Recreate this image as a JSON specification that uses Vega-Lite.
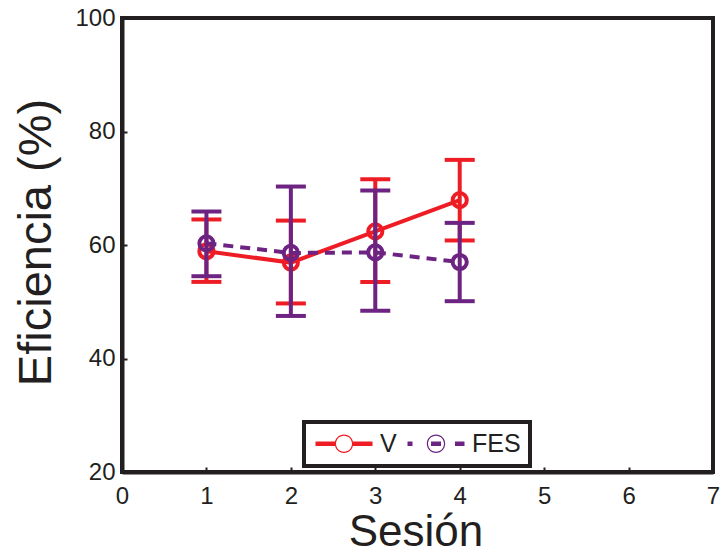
{
  "$schema": "https://vega.github.io/schema/vega-lite/v6.json",
  "width": 591,
  "height": 454,
  "autosize": {"type": "none"},
  "padding": {"left": 122, "top": 18, "right": 8, "bottom": 80},
  "background": "white",
  "config": {
    "view": {"stroke": "#231F20", "strokeWidth": 4},
    "font": "Liberation Sans",
    "axis": {
      "grid": false,
      "domainColor": "#231F20",
      "domainWidth": 4,
      "tickColor": "#231F20",
      "tickWidth": 2,
      "tickSize": -5,
      "labelFont": "Liberation Sans",
      "labelFontSize": 24,
      "labelColor": "#231F20",
      "titleFont": "Liberation Sans",
      "titleFontWeight": "normal",
      "titleColor": "#231F20",
      "labelFlush": false
    }
  },
  "data": {
    "values": [
      {"serie": "V", "x": 1, "m": 58.9, "lo": 53.5, "hi": 64.5},
      {"serie": "V", "x": 2, "m": 56.9, "lo": 49.7, "hi": 64.3},
      {"serie": "V", "x": 3, "m": 62.4, "lo": 53.5, "hi": 71.6},
      {"serie": "V", "x": 4, "m": 67.9, "lo": 60.8, "hi": 75.0},
      {"serie": "FES", "x": 1, "m": 60.3, "lo": 54.5, "hi": 65.9},
      {"serie": "FES", "x": 2, "m": 58.6, "lo": 47.5, "hi": 70.3},
      {"serie": "FES", "x": 3, "m": 58.7, "lo": 48.4, "hi": 69.6},
      {"serie": "FES", "x": 4, "m": 57.0, "lo": 50.1, "hi": 63.9}
    ]
  },
  "encoding": {
    "x": {
      "field": "x", "type": "quantitative",
      "scale": {"domain": [0, 7], "nice": false, "zero": false},
      "axis": {
        "values": [0, 1, 2, 3, 4, 5, 6, 7],
        "labelPadding": 17,
        "title": "Sesión",
        "titleFontSize": 44,
        "titleX": 293.5,
        "titleY": 73,
        "titleBaseline": "alphabetic",
        "titleAlign": "center"
      }
    },
    "y": {
      "field": "m", "type": "quantitative",
      "scale": {"domain": [20, 100], "nice": false, "zero": false},
      "axis": {
        "values": [20, 40, 60, 80, 100],
        "labelPadding": 12,
        "title": "Eficiencia (%)",
        "titleFontSize": 47,
        "titleAngle": -90,
        "titleX": -72,
        "titleY": 224,
        "titleBaseline": "alphabetic",
        "titleAlign": "center"
      }
    }
  },
  "layer": [
    {
      "transform": [{"filter": "datum.serie == 'V'"}],
      "mark": {"type": "rule", "color": "#EE1D25", "strokeWidth": 4, "opacity": 1},
      "encoding": {"y": {"field": "lo", "type": "quantitative"}, "y2": {"field": "hi"}}
    },
    {
      "transform": [{"filter": "datum.serie == 'V'"}],
      "mark": {"type": "tick", "orient": "horizontal", "color": "#EE1D25", "size": 30, "thickness": 4, "opacity": 1},
      "encoding": {"y": {"field": "hi", "type": "quantitative"}}
    },
    {
      "transform": [{"filter": "datum.serie == 'V'"}],
      "mark": {"type": "tick", "orient": "horizontal", "color": "#EE1D25", "size": 30, "thickness": 4, "opacity": 1},
      "encoding": {"y": {"field": "lo", "type": "quantitative"}}
    },
    {
      "transform": [{"filter": "datum.serie == 'V'"}],
      "mark": {"type": "line", "color": "#EE1D25", "strokeWidth": 4},
      "encoding": {}
    },
    {
      "transform": [{"filter": "datum.serie == 'V'"}],
      "mark": {"type": "point", "shape": "circle", "filled": false, "color": "#EE1D25", "strokeWidth": 4, "size": 200, "opacity": 1},
      "encoding": {}
    },
    {
      "transform": [{"filter": "datum.serie == 'FES'"}],
      "mark": {"type": "rule", "color": "#6C2382", "strokeWidth": 4, "opacity": 1},
      "encoding": {"y": {"field": "lo", "type": "quantitative"}, "y2": {"field": "hi"}}
    },
    {
      "transform": [{"filter": "datum.serie == 'FES'"}],
      "mark": {"type": "tick", "orient": "horizontal", "color": "#6C2382", "size": 30, "thickness": 4, "opacity": 1},
      "encoding": {"y": {"field": "hi", "type": "quantitative"}}
    },
    {
      "transform": [{"filter": "datum.serie == 'FES'"}],
      "mark": {"type": "tick", "orient": "horizontal", "color": "#6C2382", "size": 30, "thickness": 4, "opacity": 1},
      "encoding": {"y": {"field": "lo", "type": "quantitative"}}
    },
    {
      "transform": [{"filter": "datum.serie == 'FES'"}],
      "mark": {"type": "line", "color": "#6C2382", "strokeWidth": 4, "strokeDash": [10, 7]},
      "encoding": {}
    },
    {
      "transform": [{"filter": "datum.serie == 'FES'"}],
      "mark": {"type": "point", "shape": "circle", "filled": false, "color": "#6C2382", "strokeWidth": 4, "size": 200, "opacity": 1},
      "encoding": {}
    },
    {
      "transform": [{"filter": "datum.serie == 'ninguna'"}],
      "mark": {"type": "point", "filled": true, "opacity": 1},
      "encoding": {
        "color": {
          "field": "serie", "type": "nominal",
          "scale": {"domain": ["V", "FES"], "range": ["#EE1D25", "#6C2382"]},
          "legend": {
            "title": null,
            "orient": "none",
            "legendX": 182,
            "legendY": 404,
            "direction": "horizontal",
            "columns": 2,
            "padding": 9,
            "fillColor": "white",
            "strokeColor": "#231F20",
            "labelFont": "Liberation Sans",
            "labelFontSize": 25,
            "labelColor": "#231F20",
            "symbolSize": 400,
            "symbolStrokeWidth": 0,
            "symbolOpacity": 1,
            "symbolOffset": 18.5,
            "labelOffset": 23.5,
            "columnPadding": 8,
            "labelLimit": 300,
            "encode": {"legend": {"update": {"strokeWidth": {"value": 4}}}}
          }
        },
        "shape": {
          "field": "serie", "type": "nominal",
          "scale": {
            "domain": ["V", "FES"],
            "range": [
              "M-2.85,-0.22H-0.9V0.22H-2.85Z M0.9,-0.22H2.85V0.22H0.9Z M0.92,0A0.92,0.92 0 1 1 -0.92,0A0.92,0.92 0 1 1 0.92,0Z M0.8,0A0.8,0.8 0 1 0 -0.8,0A0.8,0.8 0 1 0 0.8,0Z",
              "M-2.85,-0.22H-2.35V0.22H-2.85Z M-0.5,-0.22H0.5V0.22H-0.5Z M1.9,-0.22H2.85V0.22H1.9Z M0.92,0A0.92,0.92 0 1 1 -0.92,0A0.92,0.92 0 1 1 0.92,0Z M0.8,0A0.8,0.8 0 1 0 -0.8,0A0.8,0.8 0 1 0 0.8,0Z"
            ]
          },
          "legend": {
            "title": null,
            "orient": "none",
            "legendX": 182,
            "legendY": 404,
            "direction": "horizontal",
            "columns": 2,
            "padding": 9,
            "fillColor": "white",
            "strokeColor": "#231F20",
            "labelFont": "Liberation Sans",
            "labelFontSize": 25,
            "labelColor": "#231F20",
            "symbolSize": 400,
            "symbolStrokeWidth": 0,
            "symbolOpacity": 1,
            "symbolOffset": 18.5,
            "labelOffset": 23.5,
            "columnPadding": 8,
            "labelLimit": 300,
            "encode": {"legend": {"update": {"strokeWidth": {"value": 4}}}}
          }
        }
      }
    }
  ]
}
